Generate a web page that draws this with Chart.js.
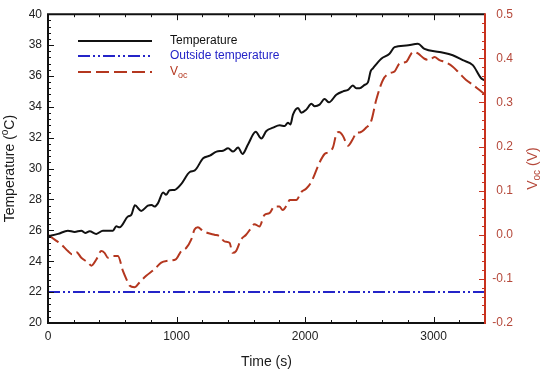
<!DOCTYPE html>
<html>
<head>
<meta charset="utf-8">
<script src="https://cdn.jsdelivr.net/npm/chart.js@4.4.1/dist/chart.umd.min.js"></script>
<style>
  html, body { margin: 0; padding: 0; background: #fff; }
  #wrap { width: 550px; height: 374px; }
</style>
</head>
<body>
<div id="wrap"><canvas id="chart" width="550" height="374"></canvas></div>
<script>
// axis ranges and tick labels
const timeRange = [0, 3400];
const tempRange = [20, 40];
const vocRange = [-0.2, 0.5];
const timeTicks = [0, 1000, 2000, 3000];
const tempTicks = [20, 22, 24, 26, 28, 30, 32, 34, 36, 38, 40];
const vocTicks = [-0.2, -0.1, 0.0, 0.1, 0.2, 0.3, 0.4, 0.5];

// Temperature (°C)
const tempTime = [
  0, 78, 155, 207, 259, 290, 324, 376, 427, 505,
  531, 557, 622, 648, 676, 725, 777, 806, 829, 855,
  896, 919, 946, 984, 1036, 1103, 1142, 1207, 1259, 1311,
  1362, 1401, 1440, 1479, 1513, 1557, 1616, 1660, 1699, 1751,
  1803, 1841, 1867, 1886, 1906, 1945, 1971, 2010, 2049, 2075,
  2113, 2152, 2186, 2243, 2295, 2334, 2372, 2398, 2424, 2463,
  2490, 2510, 2528, 2593, 2657, 2696, 2787, 2878, 2929, 3046,
  3149, 3227, 3305, 3370, 3400
];
const temperature = [
  25.62, 25.77, 25.98, 25.9, 25.98, 25.83, 25.94, 25.77, 25.98, 25.98,
  26.26, 26.2, 26.9, 27.0, 27.62, 27.26, 27.6, 27.65, 27.54, 27.75,
  28.45, 28.3, 28.6, 28.62, 29.0, 29.78, 29.88, 30.67, 30.84, 31.1,
  31.16, 31.31, 31.1, 31.37, 30.95, 31.58, 32.38, 31.95, 32.44, 32.65,
  32.8, 32.76, 32.97, 32.86, 33.5, 33.93, 33.61, 33.82, 34.2, 34.04,
  34.14, 34.5, 34.29, 34.78, 35.0, 35.1, 35.38, 35.2, 35.2, 35.42,
  35.6, 36.3, 36.49, 37.12, 37.44, 37.87, 37.97, 38.08, 37.76, 37.55,
  37.34, 37.02, 36.7, 35.85, 35.7
];

// Outside temperature (°C), flat
const outsideTime = [0, 3400];
const outsideTemp = [22, 22];

// Voc (V)
const vocTime = [
  0, 52, 104, 155, 186, 220, 259, 311, 337, 376,
  414, 440, 466, 505, 544, 583, 609, 634, 673, 712,
  764, 829, 881, 932, 997, 1036, 1075, 1114, 1140, 1166,
  1204, 1243, 1295, 1334, 1373, 1412, 1437, 1463, 1502, 1541,
  1580, 1606, 1645, 1684, 1723, 1761, 1800, 1826, 1865, 1880,
  1932, 1971, 2010, 2049, 2113, 2152, 2178, 2217, 2243, 2264,
  2295, 2334, 2372, 2403, 2424, 2476, 2515, 2554, 2606, 2657,
  2696, 2735, 2787, 2839, 2878, 2929, 2968, 3007, 3046, 3085,
  3149, 3201, 3253, 3305, 3357, 3400
];
const voc = [
  0.0, -0.011, -0.022, -0.037, -0.044, -0.039, -0.052, -0.063, -0.070, -0.056,
  -0.037, -0.041, -0.052, -0.048, -0.048, -0.082, -0.100, -0.115, -0.119, -0.108,
  -0.093, -0.078, -0.063, -0.059, -0.055, -0.037, -0.030, -0.011, 0.012, 0.017,
  0.009, 0.004, 0.0, -0.003, -0.015, -0.018, -0.041, -0.037, -0.011, 0.0,
  0.015, 0.024, 0.019, 0.045, 0.049, 0.064, 0.064, 0.056, 0.071, 0.079,
  0.079, 0.097, 0.105, 0.120, 0.164, 0.183, 0.187, 0.198, 0.228, 0.233,
  0.224, 0.202, 0.217, 0.232, 0.232, 0.243, 0.258, 0.306, 0.351, 0.366,
  0.370, 0.388, 0.392, 0.414, 0.411, 0.399, 0.396, 0.403, 0.396, 0.392,
  0.381, 0.366, 0.351, 0.340, 0.328, 0.318
];

const FONT = '"Liberation Sans", Arial, sans-serif';
const BLACK = '#111111';
const BLUE = '#2424c8';
const RED = '#b4371f';
const RED_AXIS = '#c8321e';
const RED_TEXT = '#b5483a';

const toPoints = (xs, ys) => xs.map((x, i) => ({ x, y: ys[i] }));
const fixedTicks = values => scale => {
  scale.ticks = values.map(value => ({ value }));
};

const datasets = [
  {
    label: 'Temperature',
    data: toPoints(tempTime, temperature),
    yAxisID: 'y',
    borderColor: BLACK,
    borderWidth: 2,
    pointRadius: 0,
    cubicInterpolationMode: 'monotone'
  },
  {
    label: 'Outside temperature',
    data: toPoints(outsideTime, outsideTemp),
    yAxisID: 'y',
    borderColor: BLUE,
    borderWidth: 2,
    borderDash: [12, 3, 2, 3, 2, 3],
    pointRadius: 0
  },
  {
    label: 'Voc',
    data: toPoints(vocTime, voc),
    yAxisID: 'y1',
    borderColor: RED,
    borderWidth: 2,
    borderDash: [13, 5],
    pointRadius: 0,
    cubicInterpolationMode: 'monotone'
  }
];

// inward ticks, frame, axis titles and legend
const framePlugin = {
  id: 'framePlugin',
  afterDatasetsDraw(chart) {
    const { ctx, chartArea: a, scales } = chart;
    const { x, y, y1 } = scales;
    ctx.save();

    ctx.lineWidth = 1;
    ctx.strokeStyle = BLACK;
    // x ticks every 200, major at 1000 (bottom and top)
    for (let i = 0; i * 200 <= x.max; i++) {
      const v = i * 200;
      const px = Math.round(x.getPixelForValue(v)) + 0.5;
      const len = v % 1000 === 0 ? 6 : 3;
      ctx.beginPath();
      ctx.moveTo(px, a.bottom); ctx.lineTo(px, a.bottom - len);
      ctx.moveTo(px, a.top); ctx.lineTo(px, a.top + len);
      ctx.stroke();
    }
    // left ticks every 0.4, major at 2
    for (let i = 0; i <= 50; i++) {
      const py = Math.round(y.getPixelForValue(y.min + i * 0.4)) + 0.5;
      const len = i % 5 === 0 ? 6 : 3;
      ctx.beginPath();
      ctx.moveTo(a.left, py); ctx.lineTo(a.left + len, py);
      ctx.stroke();
    }
    // right ticks every 0.02, major at 0.1
    ctx.strokeStyle = RED_AXIS;
    for (let i = 0; i <= 35; i++) {
      const py = Math.round(y1.getPixelForValue(y1.min + i * 0.02)) + 0.5;
      const len = i % 5 === 0 ? 6 : 3;
      ctx.beginPath();
      ctx.moveTo(a.right, py); ctx.lineTo(a.right - len, py);
      ctx.stroke();
    }

    // frame
    ctx.lineWidth = 2;
    ctx.strokeStyle = BLACK;
    ctx.beginPath();
    ctx.moveTo(a.right, a.top);
    ctx.lineTo(a.left, a.top);
    ctx.lineTo(a.left, a.bottom);
    ctx.lineTo(a.right, a.bottom);
    ctx.stroke();
    ctx.strokeStyle = RED_AXIS;
    ctx.beginPath();
    ctx.moveTo(a.right, a.top - 1);
    ctx.lineTo(a.right, a.bottom + 1);
    ctx.stroke();

    // axis titles
    const midY = (a.top + a.bottom) / 2;
    ctx.textBaseline = 'middle';
    ctx.textAlign = 'center';
    ctx.fillStyle = '#1a1a1a';
    ctx.font = `14px ${FONT}`;
    ctx.fillText('Time (s)', (a.left + a.right) / 2, 362);

    ctx.save();
    ctx.translate(10, midY);
    ctx.rotate(-Math.PI / 2);
    const t1 = 'Temperature (', t2 = 'o', t3 = 'C)';
    ctx.font = `14px ${FONT}`;
    const w1 = ctx.measureText(t1).width, w3 = ctx.measureText(t3).width;
    ctx.font = `10px ${FONT}`;
    const w2 = ctx.measureText(t2).width;
    let sx = -(w1 + w2 + w3) / 2;
    ctx.textAlign = 'left';
    ctx.font = `14px ${FONT}`;
    ctx.fillText(t1, sx, 0);
    ctx.font = `10px ${FONT}`;
    ctx.fillText(t2, sx + w1, -5);
    ctx.font = `14px ${FONT}`;
    ctx.fillText(t3, sx + w1 + w2, 0);
    ctx.restore();

    ctx.save();
    ctx.translate(533, midY);
    ctx.rotate(-Math.PI / 2);
    ctx.fillStyle = RED_TEXT;
    ctx.font = `14px ${FONT}`;
    const r1 = 'V', r3 = ' (V)';
    const rw1 = ctx.measureText(r1).width, rw3 = ctx.measureText(r3).width;
    ctx.font = `10px ${FONT}`;
    const rw2 = ctx.measureText('oc').width;
    sx = -(rw1 + rw2 + rw3) / 2;
    ctx.textAlign = 'left';
    ctx.font = `14px ${FONT}`;
    ctx.fillText(r1, sx, 0);
    ctx.font = `10px ${FONT}`;
    ctx.fillText('oc', sx + rw1, 4);
    ctx.font = `14px ${FONT}`;
    ctx.fillText(r3, sx + rw1 + rw2, 0);
    ctx.restore();

    // legend
    const rows = [
      { ds: chart.data.datasets[0], y: 41, color: BLACK },
      { ds: chart.data.datasets[1], y: 56, color: BLUE },
      { ds: chart.data.datasets[2], y: 72, color: RED }
    ];
    rows.forEach(row => {
      ctx.lineWidth = 2;
      ctx.strokeStyle = row.ds.borderColor;
      ctx.setLineDash(row.ds.borderDash || []);
      ctx.beginPath();
      ctx.moveTo(78, row.y); ctx.lineTo(152, row.y);
      ctx.stroke();
      ctx.setLineDash([]);
      ctx.fillStyle = row.color;
      ctx.textAlign = 'left';
      ctx.font = `12px ${FONT}`;
      if (row.ds.label === 'Voc') {
        ctx.fillText('V', 170, row.y);
        const vw = ctx.measureText('V').width;
        ctx.font = `9px ${FONT}`;
        ctx.fillText('oc', 170 + vw, row.y + 4);
      } else {
        ctx.fillText(row.ds.label, 170, row.y);
      }
    });

    ctx.restore();
  }
};

new Chart(document.getElementById('chart').getContext('2d'), {
  type: 'line',
  data: { datasets },
  options: {
    responsive: false,
    animation: false,
    layout: { padding: { top: 10, left: 0, right: 37, bottom: 0 } },
    plugins: {
      legend: { display: false },
      tooltip: { enabled: false }
    },
    scales: {
      x: {
        type: 'linear',
        min: timeRange[0],
        max: timeRange[1],
        grid: { display: false, drawTicks: false },
        border: { display: false },
        afterBuildTicks: fixedTicks(timeTicks),
        ticks: {
          autoSkip: false,
          padding: 6,
          color: '#222',
          font: { family: FONT, size: 12 },
          maxRotation: 0,
          callback: v => String(v)
        },
        afterFit(scale) { scale.height = 51; }
      },
      y: {
        position: 'left',
        min: tempRange[0],
        max: tempRange[1],
        grid: { display: false, drawTicks: false },
        border: { display: false },
        afterBuildTicks: fixedTicks(tempTicks),
        ticks: {
          autoSkip: false,
          padding: 6,
          color: '#222',
          font: { family: FONT, size: 12 },
          callback: v => String(v)
        },
        afterFit(scale) { scale.width = 48; }
      },
      y1: {
        position: 'right',
        min: vocRange[0],
        max: vocRange[1],
        grid: { display: false, drawTicks: false },
        border: { display: false },
        afterBuildTicks: fixedTicks(vocTicks),
        ticks: {
          autoSkip: false,
          padding: 7,
          crossAlign: 'far',
          color: RED_TEXT,
          font: { family: FONT, size: 12 },
          callback: v => (Math.abs(v) < 1e-9 ? '0.0' : Number(v).toFixed(1))
        },
        afterFit(scale) { scale.width = 28; }
      }
    }
  },
  plugins: [framePlugin]
});
</script>
</body>
</html>
